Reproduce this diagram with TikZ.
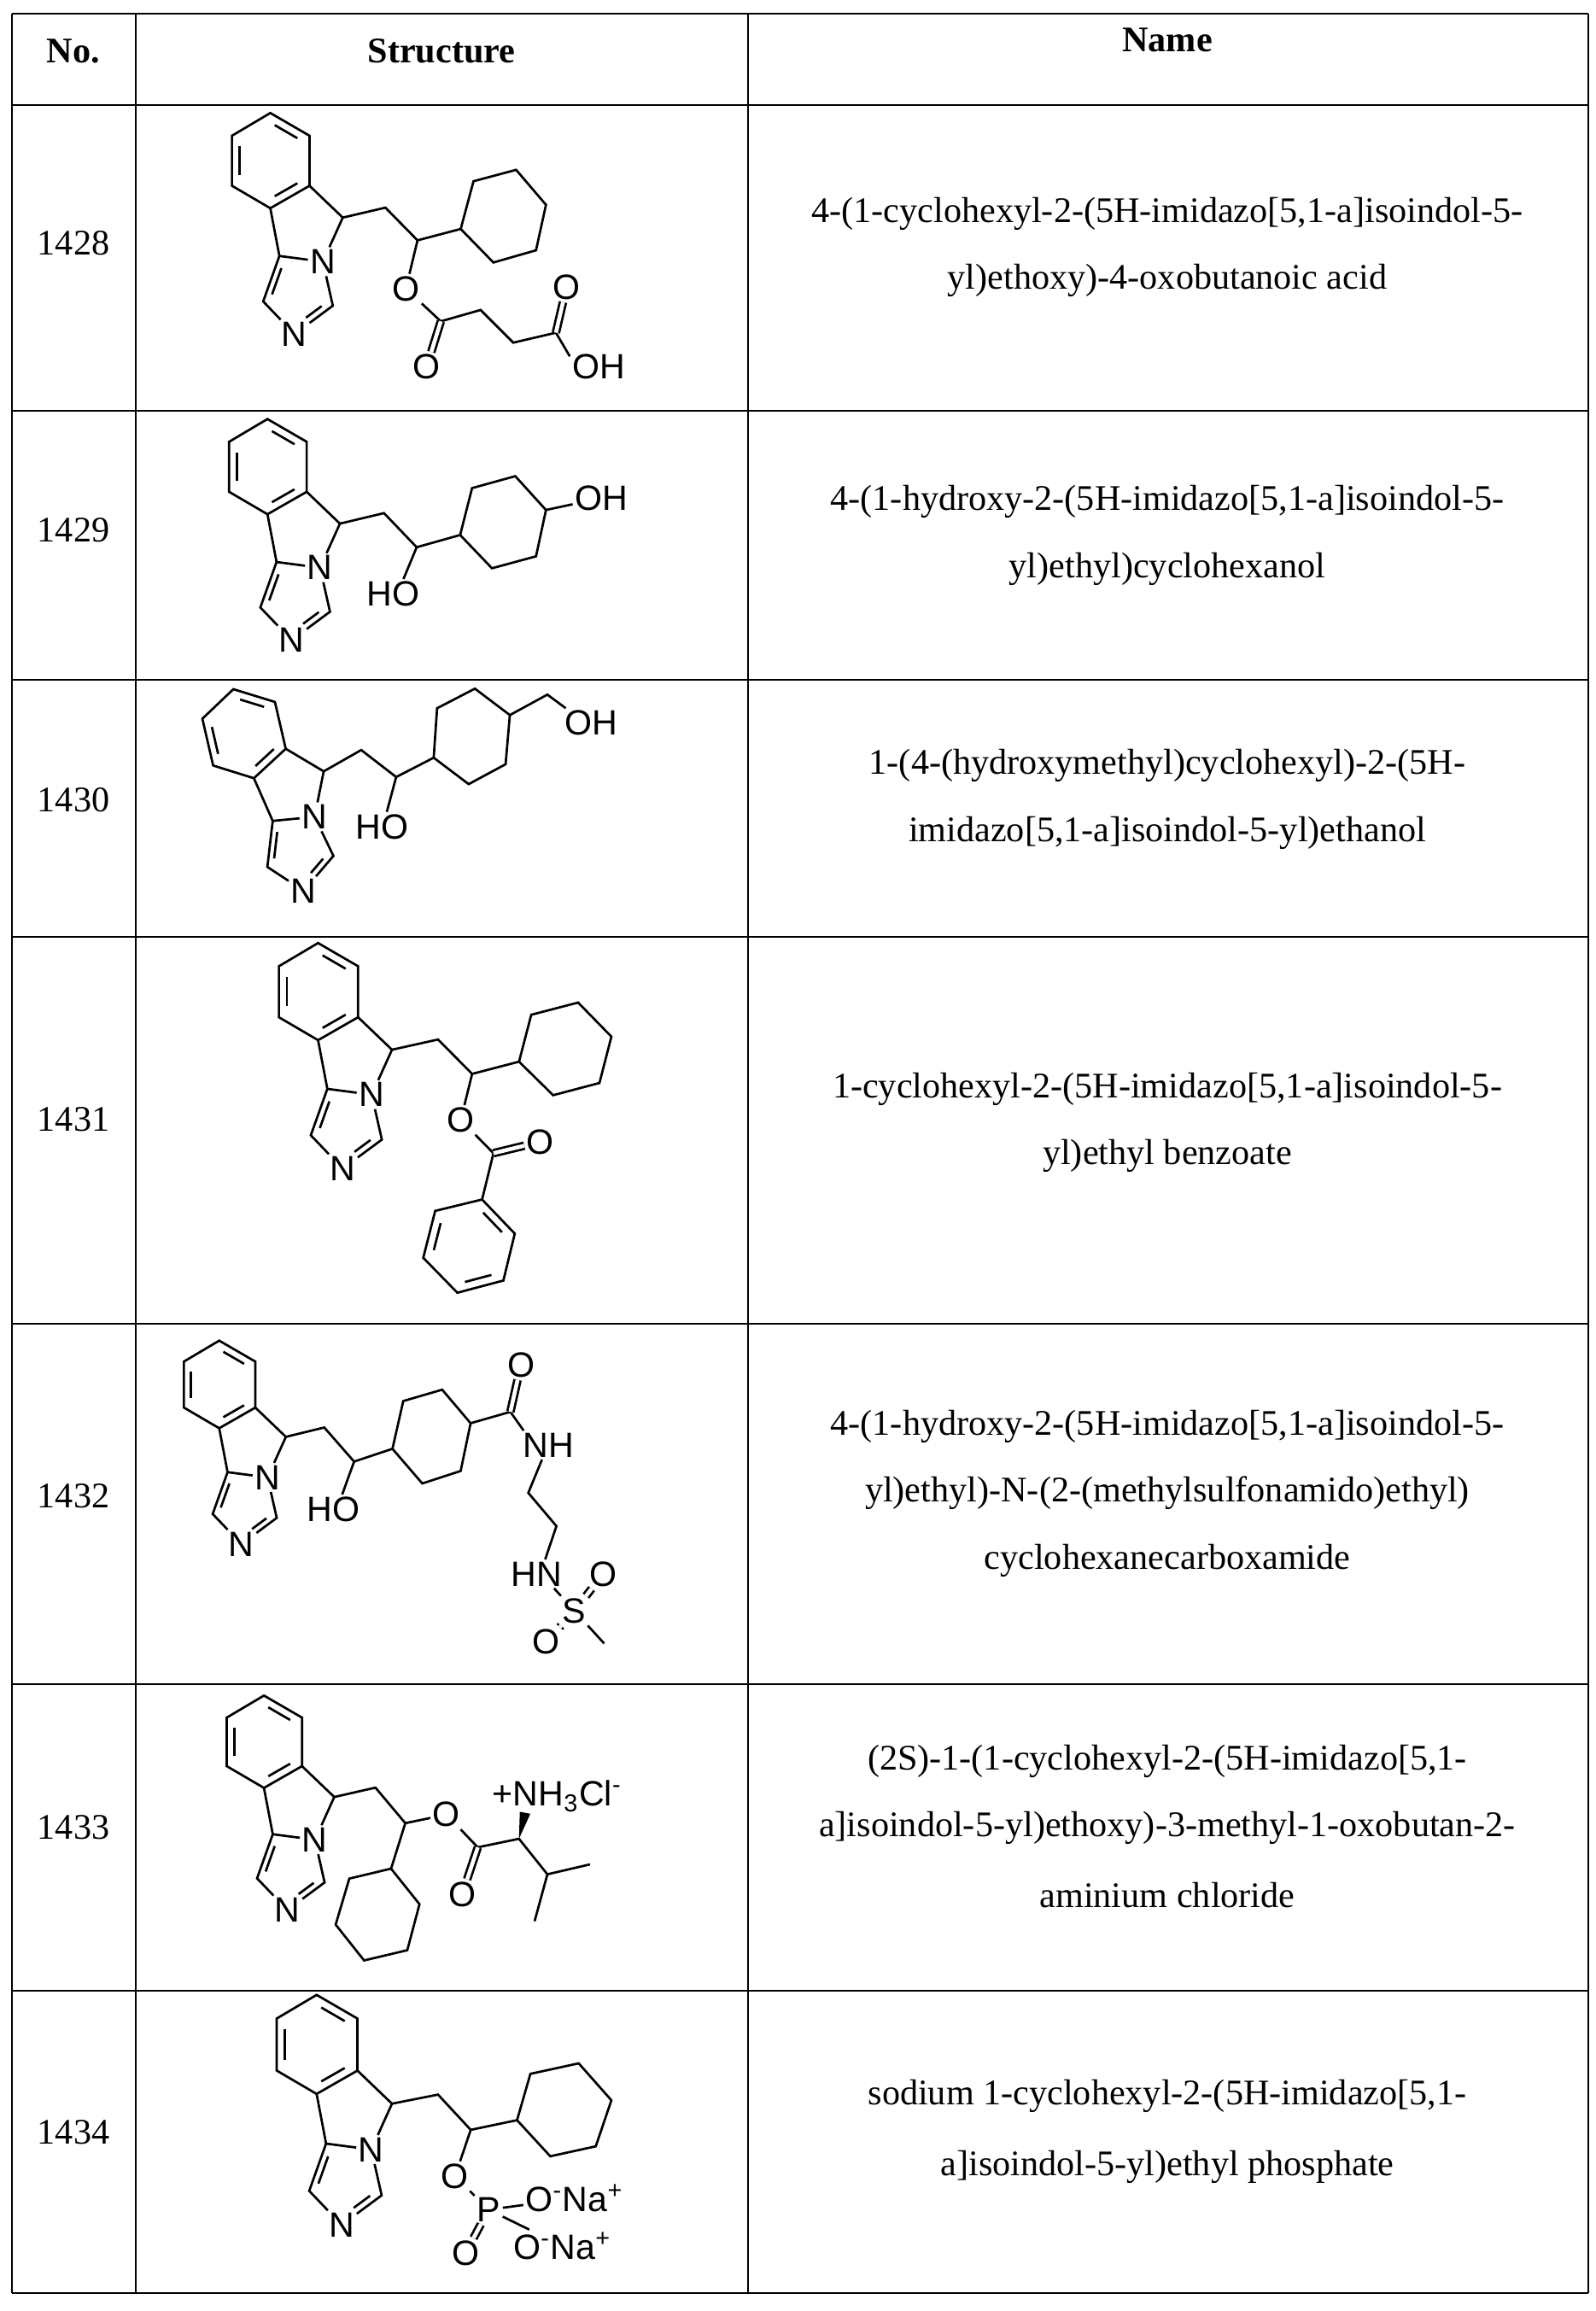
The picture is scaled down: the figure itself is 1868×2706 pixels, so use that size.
\documentclass[tikz,border=0pt]{standalone}
\usepackage{fontspec}
\setmainfont{Liberation Serif}
\newfontfamily\chemfont{Liberation Sans}
\usetikzlibrary{calc}
\tikzset{
  rule/.style={line width=0.028cm},
  bond/.style={line width=0.027cm},
  dbond/.style={bond, double, double distance=1.3pt},
  atom/.style={font=\chemfont\fontsize{11.7}{13}\selectfont, inner sep=0.6pt},
  cname/.style={font=\fontsize{12}{14}\selectfont},
  zf/.style={x=0.003333cm, y=-0.003333cm}
}
% inner line of a ring double bond
\newcommand\ringdb[5]{\draw[bond] ($(#1)!#4!(#2)!0.2!(#3)$) -- ($(#2)!#5!(#1)!0.2!(#3)$);}
% imidazo-isoindole core, origin at C5
\newcommand\imcore{%
  \coordinate (c5) at (0,0);
  \coordinate (b1) at (-255,-368); \coordinate (b2) at (-117,-288);
  \coordinate (b3) at (-117,-112); \coordinate (b4) at (-255,-33);
  \coordinate (b5) at (-390,-112); \coordinate (b6) at (-390,-288);
  \coordinate (bz) at (-254,-200);
  \node[atom] (n1) at (-70,155) {N};
  \coordinate (ci) at (-223,135); \coordinate (cm1) at (-280,295);
  \node[atom] (n2) at (-170,410) {N};
  \coordinate (cm2) at (-35,310); \coordinate (iz) at (-156,261);
  \draw[bond] (b1)--(b2)--(b3)--(b4)--(b5)--(b6)--cycle;
  \draw[bond] (b3)--(c5)--(n1)--(ci)--(b4);
  \draw[bond] (ci)--(cm1)--(n2)--(cm2)--(n1);
  \ringdb{b1}{b2}{bz}{0.14}{0.14}
  \ringdb{b3}{b4}{bz}{0.14}{0.14}
  \ringdb{b5}{b6}{bz}{0.14}{0.14}
  \ringdb{ci}{cm1}{iz}{0.14}{0.14}
  \ringdb{cm2}{n2}{iz}{0.14}{0.35}
}
\begin{document}
\begin{tikzpicture}[x=0.01cm, y=-0.01cm]
\useasboundingbox (0,0) rectangle (1868,2706);
% table
\foreach \y in {16,123,481,796,1097,1550,1972,2331,2685}
  \draw[rule] (14,\y) -- (1860,\y);
\foreach \x in {14,159,876,1860}
  \draw[rule] (\x,16) -- (\x,2685);
\node[cname] (hno) at (86,60) {\textbf{No.}};
\node[cname] (hst) at (517,60) {\textbf{Structure}};
\node[cname] (hna) at (1367,47) {\textbf{Name}};
\foreach \n/\y in {1428/285,1429/621,1430/937,1431/1311,1432/1752,1433/2140,1434/2497}
  \node[cname] (no\n) at (86,\y) {\n};

% names
\node[cname] (na1) at (1367,250) {4-(1-cyclohexyl-2-(5H-imidazo[5,1-a]isoindol-5-};
\node[cname] (na2) at (1367,328) {yl)ethoxy)-4-oxobutanoic acid};
\node[cname] (nb1) at (1367,587) {4-(1-hydroxy-2-(5H-imidazo[5,1-a]isoindol-5-};
\node[cname] (nb2) at (1367,666) {yl)ethyl)cyclohexanol};
\node[cname] (nc1) at (1367,896) {1-(4-(hydroxymethyl)cyclohexyl)-2-(5H-};
\node[cname] (nc2) at (1367,975) {imidazo[5,1-a]isoindol-5-yl)ethanol};
\node[cname] (nd1) at (1367,1275) {1-cyclohexyl-2-(5H-imidazo[5,1-a]isoindol-5-};
\node[cname] (nd2) at (1367,1353) {yl)ethyl benzoate};
\node[cname] (ne1) at (1367,1670) {4-(1-hydroxy-2-(5H-imidazo[5,1-a]isoindol-5-};
\node[cname] (ne2) at (1367,1748) {yl)ethyl)-N-(2-(methylsulfonamido)ethyl)};
\node[cname] (ne3) at (1367,1827) {cyclohexanecarboxamide};
\node[cname] (nf1) at (1367,2062) {(2S)-1-(1-cyclohexyl-2-(5H-imidazo[5,1-};
\node[cname] (nf2) at (1367,2140) {a]isoindol-5-yl)ethoxy)-3-methyl-1-oxobutan-2-};
\node[cname] (nf3) at (1367,2219) {aminium chloride};
\node[cname] (ng1) at (1367,2454) {sodium 1-cyclohexyl-2-(5H-imidazo[5,1-};
\node[cname] (ng2) at (1367,2537) {a]isoindol-5-yl)ethyl phosphate};

% 1428
\begin{scope}[shift={(240,125)}, zf]
  \begin{scope}[shift={(485,390)}] \imcore \end{scope}
  \coordinate (ca) at (635,355); \coordinate (cb) at (748,470);
  \coordinate (h1) at (900,430); \coordinate (h2) at (945,262); \coordinate (h3) at (1095,222);
  \coordinate (h4) at (1200,345); \coordinate (h5) at (1165,505); \coordinate (h6) at (1015,548);
  \node[atom] (o1) at (707,640) {O};
  \coordinate (ce) at (830,755);
  \node[atom] (o2) at (780,915) {O};
  \coordinate (m1) at (970,715); \coordinate (m2) at (1085,830); \coordinate (cd) at (1235,795);
  \node[atom] (o3) at (1272,635) {O};
  \node[atom] (oh) at (1385,915) {OH};
  \draw[bond] (c5)--(ca)--(cb)--(h1)--(h2)--(h3)--(h4)--(h5)--(h6)--(h1);
  \draw[bond] (cb)--(o1)--(ce)--(m1)--(m2)--(cd)--(oh.160);
  \draw[dbond] (ce)--(o2);
  \draw[dbond] (cd)--(o3);
\end{scope}

% 1429
\begin{scope}[shift={(240,490)}, zf]
  \begin{scope}[shift={(475,370)}] \imcore \end{scope}
  \coordinate (ca) at (630,333); \coordinate (cb) at (745,453);
  \node[atom] (ho) at (662,617) {HO};
  \coordinate (h1) at (898,410); \coordinate (h2) at (940,245); \coordinate (h3) at (1092,203);
  \coordinate (h4) at (1200,322); \coordinate (h5) at (1165,485); \coordinate (h6) at (1010,527);
  \node[atom] (oh) at (1395,280) {OH};
  \draw[bond] (c5)--(ca)--(cb)--(h1)--(h2)--(h3)--(h4)--(h5)--(h6)--(h1);
  \draw[bond] (cb)--(ho.55);
  \draw[bond] (h4)--(oh);
\end{scope}

% 1430
\begin{scope}[shift={(220,810)}, zf]
  \begin{scope}[shift={(478,280)}, rotate=13, scale=0.96] \imcore \end{scope}
  \coordinate (ca) at (610,205); \coordinate (cb) at (733,300);
  \node[atom] (ho) at (683,475) {HO};
  \coordinate (h1) at (865,232); \coordinate (h2) at (877,58); \coordinate (h3) at (1010,-11);
  \coordinate (h4) at (1133,82); \coordinate (h5) at (1118,255); \coordinate (h6) at (988,325);
  \coordinate (m1) at (1265,10);
  \node[atom] (oh) at (1420,110) {OH};
  \draw[bond] (c5)--(ca)--(cb)--(h1)--(h2)--(h3)--(h4)--(h5)--(h6)--(h1);
  \draw[bond] (cb)--(ho.72);
  \draw[bond] (h4)--(m1)--(oh.150);
\end{scope}

% 1431
\begin{scope}[shift={(280,1110)}, zf]
  \begin{scope}[shift={(538,358)}, scale=1.02] \imcore \end{scope}
  \coordinate (ca) at (700,322); \coordinate (cb) at (820,443);
  \coordinate (h1) at (985,400); \coordinate (h2) at (1028,235); \coordinate (h3) at (1193,192);
  \coordinate (h4) at (1310,312); \coordinate (h5) at (1268,475); \coordinate (h6) at (1105,518);
  \node[atom] (o1) at (780,605) {O};
  \coordinate (ce) at (895,722);
  \node[atom] (o2) at (1060,682) {O};
  \coordinate (p1) at (855,885); \coordinate (p2) at (970,1005); \coordinate (p3) at (930,1170);
  \coordinate (p4) at (768,1213); \coordinate (p5) at (648,1090); \coordinate (p6) at (690,925);
  \coordinate (pz) at (810,1048);
  \draw[bond] (c5)--(ca)--(cb)--(h1)--(h2)--(h3)--(h4)--(h5)--(h6)--(h1);
  \draw[bond] (cb)--(o1)--(ce)--(p1);
  \draw[dbond] (ce)--(o2);
  \draw[bond] (p1)--(p2)--(p3)--(p4)--(p5)--(p6)--cycle;
  \ringdb{p1}{p2}{pz}{0.14}{0.14}
  \ringdb{p3}{p4}{pz}{0.14}{0.14}
  \ringdb{p5}{p6}{pz}{0.14}{0.14}
\end{scope}

% 1432
\begin{scope}[shift={(200,1540)}, zf]
  \begin{scope}[shift={(405,428)}, scale=0.92] \imcore \end{scope}
  \coordinate (ca) at (540,395); \coordinate (cb) at (645,515);
  \node[atom] (ho) at (573,683) {HO};
  \coordinate (h1) at (780,470); \coordinate (h2) at (818,302); \coordinate (h3) at (955,262);
  \coordinate (h4) at (1055,380); \coordinate (h5) at (1020,548); \coordinate (h6) at (885,592);
  \coordinate (cam) at (1195,340);
  \node[atom] (o1) at (1232,175) {O};
  \node[atom] (nh) at (1330,457) {NH};
  \coordinate (m1) at (1258,625); \coordinate (m2) at (1357,742);
  \node[atom] (hn) at (1288,910) {HN};
  \node[atom] (s) at (1420,1040) {S};
  \node[atom] (o2) at (1522,910) {O};
  \node[atom] (o3) at (1322,1150) {O};
  \coordinate (me) at (1525,1155);
  \draw[bond] (c5)--(ca)--(cb)--(h1)--(h2)--(h3)--(h4)--(h5)--(h6)--(h1);
  \draw[bond] (cb)--(ho.60);
  \draw[bond] (h4)--(cam)--(nh.150);
  \draw[bond] (nh.245)--(m1)--(m2)--(hn.60);
  \draw[bond] (hn.-40)--(s)--(me);
  \draw[dbond] (cam)--(o1);
  \draw[dbond] (s)--(o2);
  \draw[dbond] (s)--(o3);
\end{scope}

% 1433
\begin{scope}[shift={(240,1980)}, zf]
  \begin{scope}[shift={(455,373)}, scale=0.97] \imcore \end{scope}
  \coordinate (ca) at (600,340); \coordinate (cb) at (705,465);
  \node[atom] (o1) at (850,435) {O};
  \coordinate (ce) at (960,550);
  \node[atom] (o2) at (905,715) {O};
  \coordinate (cq) at (1105,520); \coordinate (cr) at (1205,645);
  \coordinate (me1) at (1355,610); \coordinate (me2) at (1160,810);
  \coordinate (h1) at (655,625); \coordinate (h2) at (755,750); \coordinate (h3) at (712,912);
  \coordinate (h4) at (560,948); \coordinate (h5) at (460,822); \coordinate (h6) at (508,660);
  \node[atom] (nh3) at (1240,370) {+NH\textsubscript{3}Cl\textsuperscript{-}};
  \draw[bond] (c5)--(ca)--(cb)--(o1)--(ce)--(cq)--(cr)--(me1);
  \draw[bond] (cr)--(me2);
  \draw[dbond] (ce)--(o2);
  \draw[bond] (cb)--(h1)--(h2)--(h3)--(h4)--(h5)--(h6)--(h1);
  \fill (cq) -- (1108,425) -- (1145,432) -- cycle;
\end{scope}

% 1434
\begin{scope}[shift={(280,2400)}, zf]
  \begin{scope}[shift={(538,190)}, scale=1.04] \imcore \end{scope}
  \coordinate (ca) at (700,158); \coordinate (cb) at (815,282);
  \coordinate (h1) at (978,248); \coordinate (h2) at (1025,85); \coordinate (h3) at (1195,48);
  \coordinate (h4) at (1310,178); \coordinate (h5) at (1255,340); \coordinate (h6) at (1095,375);
  \node[atom] (o1) at (760,445) {O};
  \node[atom] (p) at (878,563) {P};
  \node[atom] (o2) at (797,715) {O};
  \node[atom, anchor=west] (ona1) at (1000,522) {O\textsuperscript{-}Na\textsuperscript{+}};
  \node[atom, anchor=west] (ona2) at (957,690) {O\textsuperscript{-}Na\textsuperscript{+}};
  \draw[bond] (c5)--(ca)--(cb)--(h1)--(h2)--(h3)--(h4)--(h5)--(h6)--(h1);
  \draw[bond] (cb)--(o1)--(p)--(ona1);
  \draw[bond] (p)--(ona2);
  \draw[dbond] (p)--(o2);
\end{scope}
\end{tikzpicture}
\end{document}
